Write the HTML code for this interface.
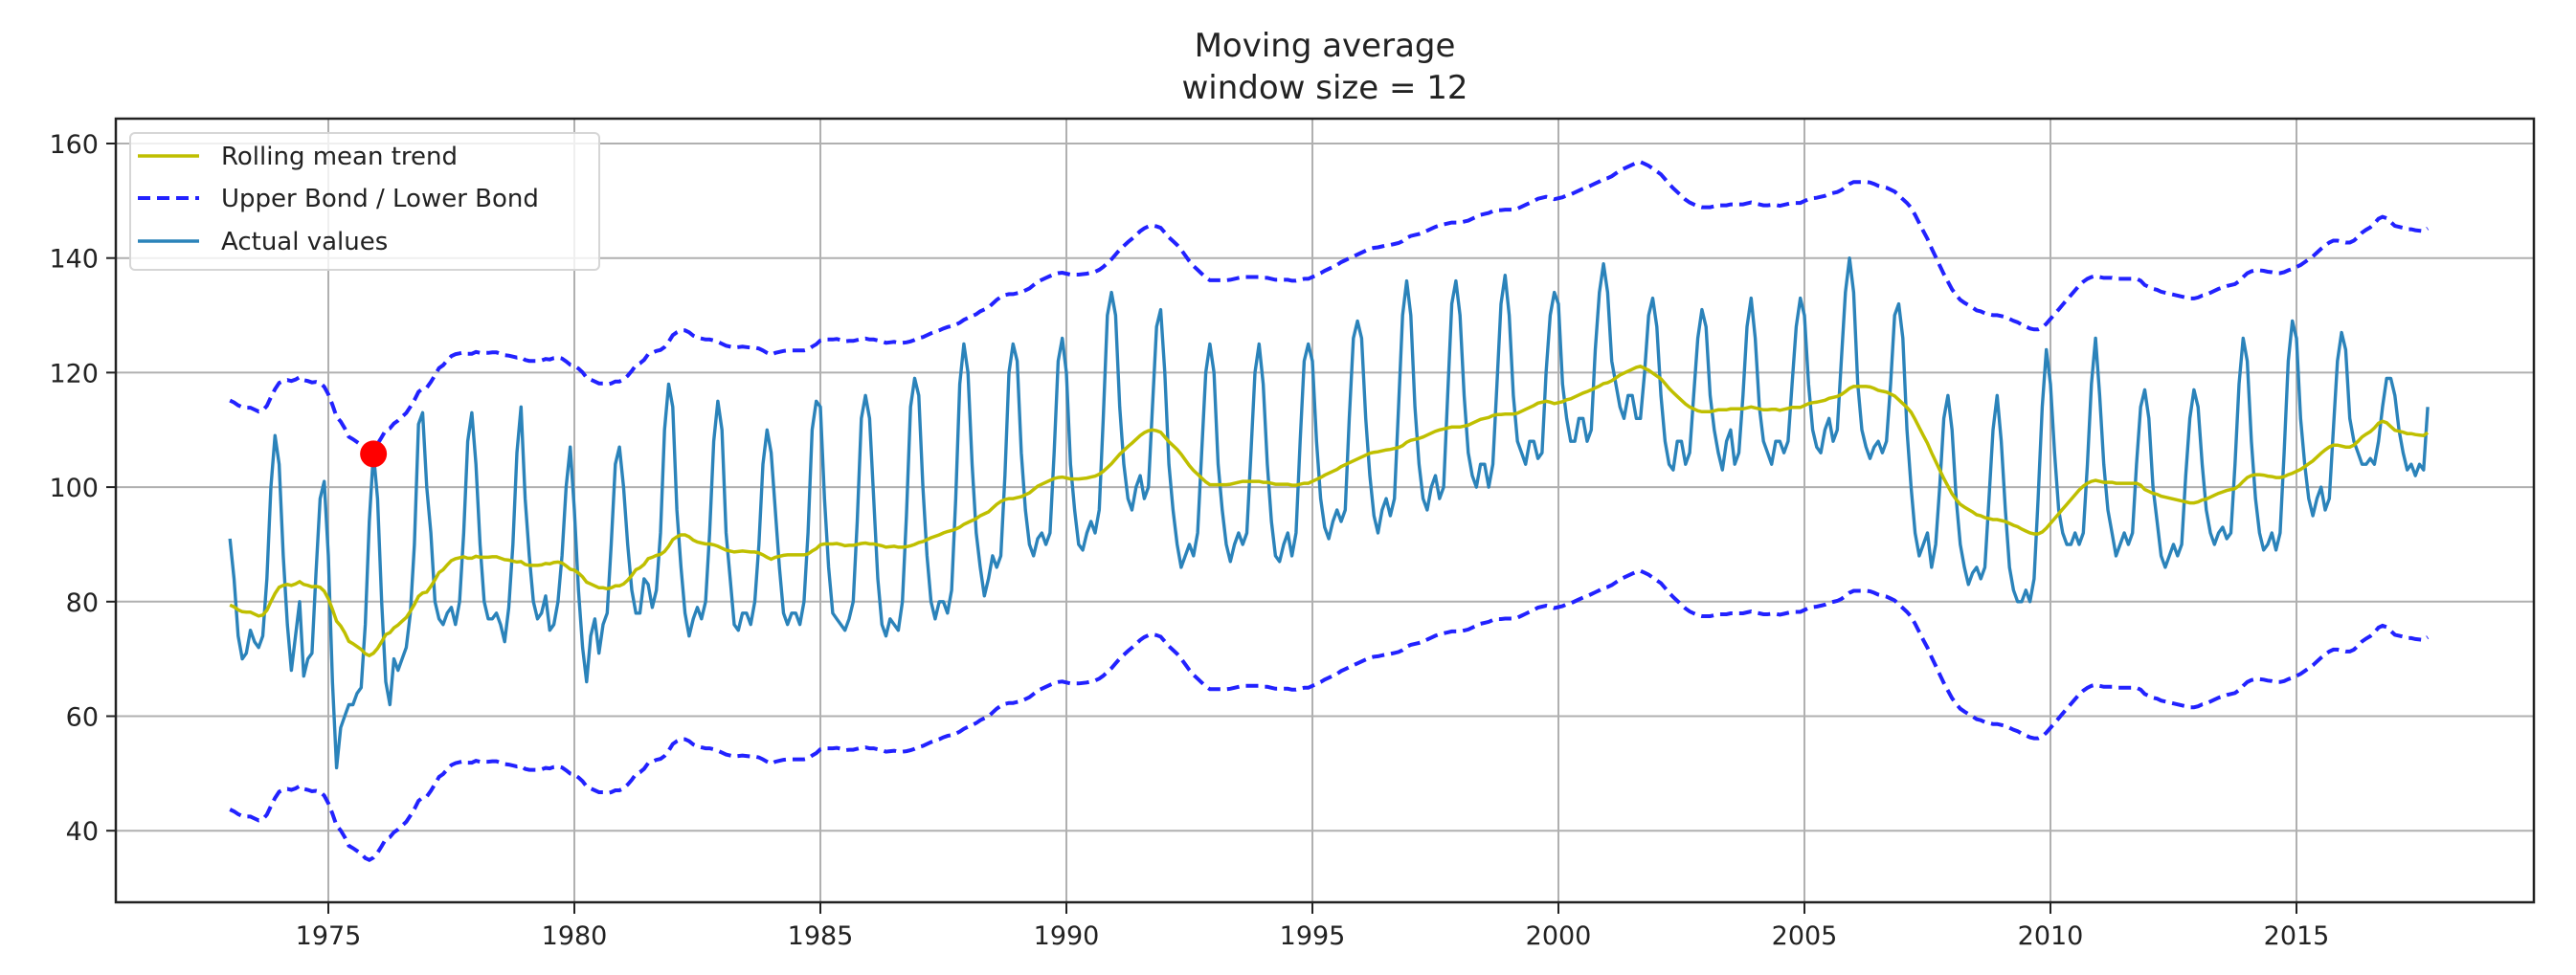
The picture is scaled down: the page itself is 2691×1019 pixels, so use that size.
<!DOCTYPE html>
<html><head><meta charset="utf-8"><style>
html,body{margin:0;padding:0;background:#fff;}
svg{display:block;font-family:"DejaVu Sans","Liberation Sans",sans-serif;}
</style></head><body>
<svg id="chart" width="2691" height="1019" viewBox="0 0 2691 1019" xmlns="http://www.w3.org/2000/svg">
<rect width="2691" height="1019" fill="#fff"/>
<text x="1384" y="59" font-size="34" text-anchor="middle" fill="#222">Moving average</text>
<text x="1384" y="103" font-size="34" text-anchor="middle" fill="#222">window size = 12</text>
<g id="grid"></g>
<g id="series"></g>
<g id="axes"></g>
<g id="legend">
 <rect x="136" y="139" width="490" height="143" rx="5" fill="#fff" fill-opacity="0.8" stroke="#d6d6d6" stroke-width="2"/>
 <line x1="144" y1="163" x2="208" y2="163" stroke="#bfbf00" stroke-width="3.5"/>
 <text x="231" y="172" font-size="26" fill="#222">Rolling mean trend</text>
 <line x1="144" y1="207" x2="208" y2="207" stroke="#2222ff" stroke-width="4" stroke-dasharray="13,7"/>
 <text x="231" y="216" font-size="26" fill="#222">Upper Bond / Lower Bond</text>
 <line x1="144" y1="252" x2="208" y2="252" stroke="#2b83ba" stroke-width="3.5"/>
 <text x="231" y="261" font-size="26" fill="#222">Actual values</text>
</g>
</svg>
<script>
const startYear = 1973;
const prior1972 = [88,80,74,72,75,77,76,72,74,82,92];
const actual = [
91,84,74,70,71,75,73,72,74,84,100,109,
104,88,76,68,74,80,67,70,71,85,98,101,
88,66,51,58,60,62,62,64,65,76,94,106,
98,80,66,62,70,68,70,72,78,90,111,113,
100,92,80,77,76,78,79,76,80,92,108,113,
104,90,80,77,77,78,76,73,79,90,106,114,
98,88,80,77,78,81,75,76,80,88,100,107,
96,82,72,66,74,77,71,76,78,90,104,107,
100,90,82,78,78,84,83,79,82,92,110,118,
114,96,86,78,74,77,79,77,80,92,108,115,
110,92,84,76,75,78,78,76,80,90,104,110,
106,96,86,78,76,78,78,76,80,92,110,115,
114,98,86,78,77,76,75,77,80,94,112,116,
112,98,84,76,74,77,76,75,80,95,114,119,
116,100,88,80,77,80,80,78,82,98,118,125,
120,104,92,86,81,84,88,86,88,102,120,125,
122,106,96,90,88,91,92,90,92,106,122,126,
120,104,96,90,89,92,94,92,96,112,130,134,
130,114,104,98,96,100,102,98,100,114,128,131,
120,104,96,90,86,88,90,88,92,106,120,125,
120,104,96,90,87,90,92,90,92,106,120,125,
118,104,94,88,87,90,92,88,92,108,122,125,
122,108,98,93,91,94,96,94,96,112,126,129,
126,112,102,95,92,96,98,95,98,114,130,136,
130,114,104,98,96,100,102,98,100,116,132,136,
130,116,106,102,100,104,104,100,104,118,132,137,
130,116,108,106,104,108,108,105,106,120,130,134,
132,118,112,108,108,112,112,108,110,124,134,139,
134,122,118,114,112,116,116,112,112,120,130,133,
128,116,108,104,103,108,108,104,106,116,126,131,
128,116,110,106,103,108,110,104,106,116,128,133,
126,114,108,106,104,108,108,106,108,118,128,133,
130,118,110,107,106,110,112,108,110,122,134,140,
134,118,110,107,105,107,108,106,108,118,130,132,
126,110,100,92,88,90,92,86,90,100,112,116,
110,98,90,86,83,85,86,84,86,98,110,116,
108,96,86,82,80,80,82,80,84,98,114,124,
118,106,96,92,90,90,92,90,92,104,118,126,
116,104,96,92,88,90,92,90,92,104,114,117,
112,100,94,88,86,88,90,88,90,102,112,117,
114,104,96,92,90,92,93,91,92,104,118,126,
122,108,98,92,89,90,92,89,92,106,122,129,
126,112,104,98,95,98,100,96,98,110,122,127,
124,112,108,106,104,104,105,104,108,114,119,119,
116,110,106,103,104,102,104,103,114
];
const boundWidth = [35.7];
const anomalyYears = [1975.917];
const anomalyValues = [105.8];
const xTicks = [1975,1980,1985,1990,1995,2000,2005,2010,2015];
const yTicks = [40,60,80,100,120,140,160];

const NS = "http://www.w3.org/2000/svg";
const L = 121, R = 2647, T = 124, B = 943;
function xs(yr){ return 343 + (yr - 1975) * 51.4; }
function ys(v){ return 150 + (160 - v) * 5.985; }
function mk(tag, attrs, parent){
  const e = document.createElementNS(NS, tag);
  for (const k in attrs) e.setAttribute(k, attrs[k]);
  parent.appendChild(e); return e;
}
const grid = document.getElementById('grid');
const axes = document.getElementById('axes');
const series = document.getElementById('series');

xTicks.forEach(t => {
  const g = mk('line', {x1: xs(t), x2: xs(t), y1: T, y2: B, stroke: '#b0b0b0', 'stroke-width': 2}, grid);
  
  
  const tk = mk('line', {x1: xs(t), x2: xs(t), y1: B, y2: B + 12, stroke: '#222', 'stroke-width': 2}, axes);
  
  
  const lb = mk('text', {x: xs(t), y: 987, 'font-size': 27, 'text-anchor': 'middle', fill: '#222'}, axes);
  lb.textContent = t;
  
  
});
yTicks.forEach(t => {
  const g = mk('line', {x1: L, x2: R, y1: ys(t), y2: ys(t), stroke: '#b0b0b0', 'stroke-width': 2}, grid);
  
  
  const tk = mk('line', {x1: L - 10, x2: L, y1: ys(t), y2: ys(t), stroke: '#222', 'stroke-width': 2}, axes);
  
  
  const lb = mk('text', {x: L - 18, y: ys(t) + 10, 'font-size': 27, 'text-anchor': 'end', fill: '#222'}, axes);
  lb.textContent = t;
  
  
});
const frame = mk('rect', {x: L, y: T, width: R - L, height: B - T, fill: 'none', stroke: '#222', 'stroke-width': 2.5}, axes);



const full = prior1972.concat(actual);
const off = prior1972.length;
const mean = actual.map((v, i) => {
  let s = 0, n = 0;
  for (let j = i + off - 11; j <= i + off; j++) { if (j >= 0) { s += full[j]; n++; } }
  return s / n;
});
function pathOf(vals){
  return vals.map((v, i) => (i ? 'L' : 'M') + xs(startYear + i / 12).toFixed(1) + ',' + ys(v).toFixed(1)).join('');
}
const up = mk('path', {d: pathOf(mean.map(m => m + boundWidth[0])), fill: 'none', stroke: '#2222ff', 'stroke-width': 4, 'stroke-dasharray': '13,7'}, series);


const lo = mk('path', {d: pathOf(mean.map(m => m - boundWidth[0])), fill: 'none', stroke: '#2222ff', 'stroke-width': 4, 'stroke-dasharray': '13,7'}, series);


const act = mk('path', {d: pathOf(actual), fill: 'none', stroke: '#2b83ba', 'stroke-width': 3.4, 'stroke-linejoin': 'round'}, series);


const rm = mk('path', {d: pathOf(mean), fill: 'none', stroke: '#bfbf00', 'stroke-width': 3.5}, series);


anomalyYears.forEach((yr, i) => {
  const c = mk('circle', {cx: xs(yr), cy: ys(anomalyValues[i]), r: 14, fill: '#ff0000'}, series);
  
  
});
</script>
</body></html>
